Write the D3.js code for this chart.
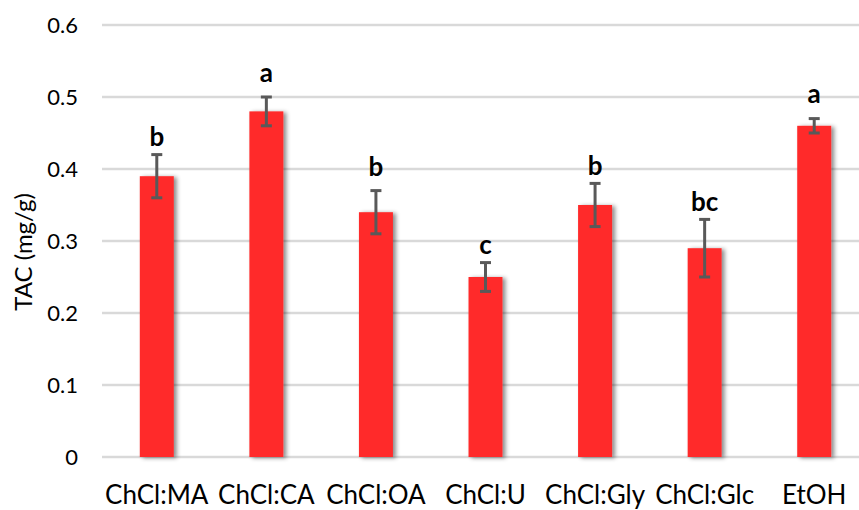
<!DOCTYPE html>
<html>
<head>
<meta charset="utf-8">
<script src="https://cdn.jsdelivr.net/npm/d3@7"></script>
<style>
  body { margin: 0; background: #fff; }
  text { font-family: Lato, "Open Sans", sans-serif; }
</style>
</head>
<body>
<svg id="chart" width="859" height="510"></svg>
<script>
// Total anthocyanin content per extraction solvent
const categories = ["ChCl:MA", "ChCl:CA", "ChCl:OA", "ChCl:U", "ChCl:Gly", "ChCl:Glc", "EtOH"];
const values = [0.39, 0.48, 0.34, 0.25, 0.35, 0.29, 0.46];
const errors = [0.03, 0.02, 0.03, 0.02, 0.03, 0.04, 0.01];
const letters = ["b", "a", "b", "c", "b", "bc", "a"];
const yTicks = [0, 0.1, 0.2, 0.3, 0.4, 0.5, 0.6];

const svg = d3.select("#chart");
const font = "Lato, 'Open Sans', sans-serif";

const x = d3.scaleBand().domain(categories).range([102, 869]).paddingInner(0.69).paddingOuter(0.345);
const y = d3.scaleLinear().domain([0, 0.6]).range([457, 25]);

// bar shadow
const defs = svg.append("defs");
const f = defs.append("filter").attr("id", "shadow").attr("x", "-30%").attr("y", "-10%").attr("width", "160%").attr("height", "120%");
f.append("feDropShadow").attr("dx", 3).attr("dy", 1).attr("stdDeviation", 2)
  .attr("flood-color", "#000").attr("flood-opacity", 0.45);

// gridlines
svg.append("g").selectAll("line").data(yTicks).join("line")
  .attr("x1", 102).attr("x2", 859)
  .attr("y1", d => y(d)).attr("y2", d => y(d))
  .attr("stroke", "#d9d9d9").attr("stroke-width", 2.5);

// y tick labels
const yAxis = d3.axisLeft(y).tickValues(yTicks).tickFormat(d => d === 0 ? "0" : d3.format(".1f")(d)).tickSize(0).tickPadding(0);
const gy = svg.append("g").attr("transform", "translate(78,0)").call(yAxis);
gy.select(".domain").remove();
gy.selectAll("text").attr("font-size", 22).attr("fill", "#000").attr("font-family", font);

// x labels
const xAxis = d3.axisBottom(x).tickSize(0).tickPadding(0);
const gx = svg.append("g").attr("transform", "translate(0,486)").call(xAxis);
gx.select(".domain").remove();
gx.selectAll("text").attr("font-size", 26).attr("fill", "#000").attr("font-family", font);

// bars
svg.append("g").selectAll("rect").data(categories).join("rect")
  .attr("x", d => x(d)).attr("width", x.bandwidth())
  .attr("y", (d, i) => y(values[i])).attr("height", (d, i) => y(0) - y(values[i]))
  .attr("fill", "#ff2a2a").attr("filter", "url(#shadow)");

// error bars
const eb = svg.append("g").attr("stroke", "#595959").attr("stroke-width", 3);
categories.forEach((c, i) => {
  const cx = x(c) + x.bandwidth() / 2;
  const top = y(values[i] + errors[i]), bot = y(values[i] - errors[i]);
  eb.append("line").attr("x1", cx).attr("x2", cx).attr("y1", top).attr("y2", bot);
  eb.append("line").attr("x1", cx - 5.5).attr("x2", cx + 5.5).attr("y1", top).attr("y2", top);
  eb.append("line").attr("x1", cx - 5.5).attr("x2", cx + 5.5).attr("y1", bot).attr("y2", bot);
});

// significance letters, lifted a little above each error cap
const letterGap = [8.5, 15, 14.5, 9, 8.5, 8, 16];
svg.append("g").selectAll("text").data(categories).join("text")
  .attr("x", d => x(d) + x.bandwidth() / 2)
  .attr("y", (d, i) => y(values[i] + errors[i]) - letterGap[i])
  .attr("text-anchor", "middle").attr("font-size", 26).attr("font-weight", "bold").attr("fill", "#000")
  .text((d, i) => letters[i]);

// y axis title
svg.append("text").attr("transform", "translate(32,252) rotate(-90)")
  .attr("text-anchor", "middle").attr("font-size", 24).attr("fill", "#000")
  .text("TAC (mg/g)");
</script>
</body>
</html>
